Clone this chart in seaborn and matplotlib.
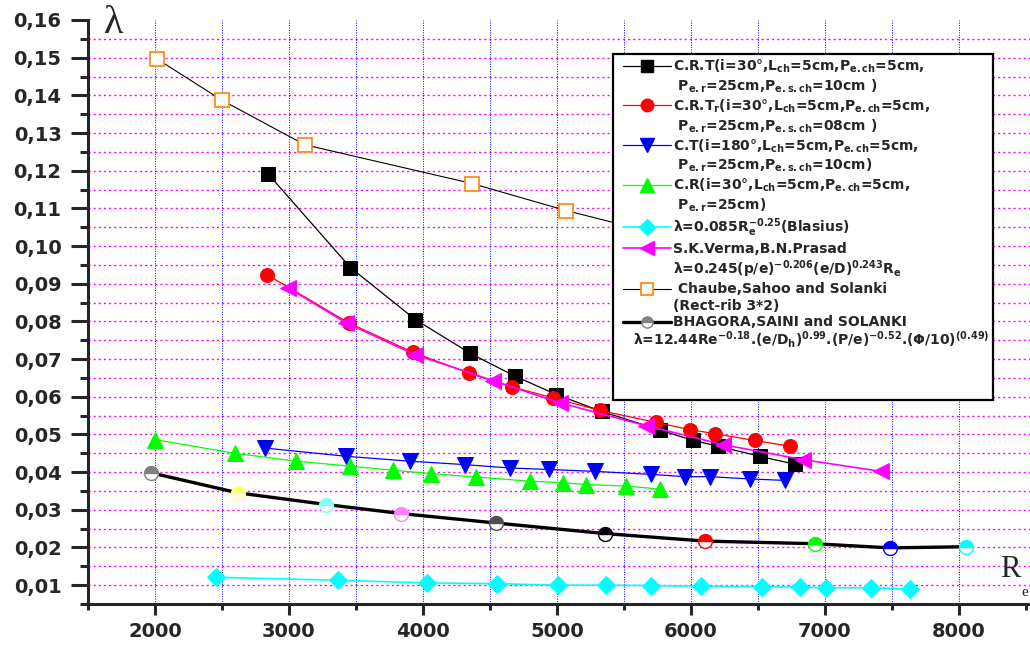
import numpy as np
import seaborn as sns
import matplotlib.pyplot as plt
from matplotlib.lines import Line2D
from matplotlib.patches import Rectangle
from matplotlib.ticker import MultipleLocator, FuncFormatter

# values (Re, friction factor)
crt_re = [2843, 3458, 3943, 4354, 4690, 4996, 5334, 5767, 6015, 6201, 6513, 6774]
crt_f = [0.1192, 0.0943, 0.0805, 0.0715, 0.0654, 0.0606, 0.0561, 0.0512, 0.0484, 0.0469, 0.0442, 0.0421]
crtr_re = [2836, 3446, 3925, 4341, 4667, 4970, 5319, 5737, 5990, 6177, 6475, 6736]
crtr_f = [0.0924, 0.0796, 0.0718, 0.0663, 0.0626, 0.0597, 0.0564, 0.0532, 0.0513, 0.0502, 0.0484, 0.0469]
ct_re = [2819, 3428, 3901, 4311, 4647, 4940, 5281, 5704, 5953, 6139, 6438, 6699]
ct_f = [0.0464, 0.0442, 0.0429, 0.0420, 0.0411, 0.0407, 0.0402, 0.0394, 0.0388, 0.0388, 0.0382, 0.0378]
cr_re = [2003, 2596, 3055, 3453, 3777, 4063, 4399, 4796, 5045, 5219, 5518, 5766]
cr_f = [0.0486, 0.0450, 0.0429, 0.0416, 0.0405, 0.0396, 0.0387, 0.0376, 0.0372, 0.0367, 0.0363, 0.0355]
bla_re = [2458, 3366, 4033, 4555, 5007, 5368, 5704, 6078, 6530, 6811, 7010, 7346, 7632]
bla_f = [0.0121, 0.0113, 0.0106, 0.0104, 0.0100, 0.0100, 0.0099, 0.0097, 0.0096, 0.0095, 0.0093, 0.0093, 0.0090]
skv_re = [2993, 3428, 3938, 4522, 5020, 5667, 6239, 6836, 7421]
skv_f = [0.0889, 0.0796, 0.0712, 0.0643, 0.0584, 0.0523, 0.0473, 0.0433, 0.0402]
csr_re = [2018, 2500, 3117, 4366, 5070, 6000]
csr_f = [0.1496, 0.1387, 0.1269, 0.1166, 0.1094, 0.1011]
bsr_re = [1973, 2619, 3279, 3839, 4543, 5356, 6102, 6923, 7483, 8055]
bsr_f = [0.0398, 0.0345, 0.0314, 0.0290, 0.0265, 0.0237, 0.0217, 0.0210, 0.0199, 0.0202]
bsr_colors = ['#808080', '#ffff80', '#80ffff', '#ff80ff', '#505050',
              '#000000', '#ff0000', '#00ff00', '#0000ff', '#00ffff']

sns.set_style('ticks')
plt.rcParams['font.family'] = ['DejaVu Sans']
plt.rcParams['font.weight'] = 'bold'
plt.rcParams['mathtext.fontset'] = 'dejavusans'
plt.rcParams['mathtext.default'] = 'bf'

W, H = 1030, 646
fig = plt.figure(figsize=(10.3, 6.46), dpi=100)
ax = fig.add_axes([88/W, 42/H, 942/W, 584/H])

# grid
for yv in np.arange(0.01, 0.1551, 0.005):
    ax.axhline(yv, color='#ff00ff', lw=1.0, ls=(0, (1.5, 2.2)), zorder=0)
for xv in range(2000, 8001, 500):
    ax.axvline(xv, color='#0000ff', lw=0.7, ls=(0, (1, 1.5)), zorder=0)

kw = dict(ax=ax, legend=False, sort=False)
sns.lineplot(x=crt_re, y=crt_f, color='black', lw=0.9, marker='s', ms=10, mec='black', mfc='black', **kw)
sns.lineplot(x=crtr_re, y=crtr_f, color='red', lw=0.9, marker='o', ms=10, mec='red', mfc='red', **kw)
sns.lineplot(x=ct_re, y=ct_f, color='blue', lw=0.9, marker='v', ms=11, mec='blue', mfc='blue', **kw)
sns.lineplot(x=cr_re, y=cr_f, color='#00ff00', lw=0.9, marker='^', ms=11, mec='#00ff00', mfc='#00ff00', **kw)
sns.lineplot(x=bla_re, y=bla_f, color='#00ffff', lw=1.2, marker='D', ms=9, mec='#00ffff', mfc='#00ffff', **kw)
sns.lineplot(x=skv_re, y=skv_f, color='#ff00ff', lw=1.2, marker='<', ms=11, mec='#ff00ff', mfc='#ff00ff', **kw)
sns.lineplot(x=csr_re, y=csr_f, color='black', lw=0.8, marker='s', ms=10, mec='#ff8c1a', mfc='white', mew=1.3, **kw)
sns.lineplot(x=bsr_re, y=bsr_f, color='black', lw=2.4, **kw)
for i, c in enumerate(bsr_colors):
    sns.lineplot(x=[bsr_re[i]], y=[bsr_f[i]], color=c, linestyle='none', marker='o', ms=10,
                 mec=c, mfc=c, mew=1.0, fillstyle='top', markerfacecoloralt='white', **kw)

ax.set_xlim(1500, 8530)
ax.set_ylim(0.005, 0.16)
ax.xaxis.set_major_locator(MultipleLocator(1000))
ax.xaxis.set_minor_locator(MultipleLocator(500))
ax.yaxis.set_major_locator(MultipleLocator(0.01))
ax.yaxis.set_minor_locator(MultipleLocator(0.005))
ax.xaxis.set_major_formatter(FuncFormatter(lambda v, p: f'{v:.0f}' if v >= 2000 else ''))
ax.yaxis.set_major_formatter(FuncFormatter(lambda v, p: f'{v:.2f}'.replace('.', ',') if v > 0.009 else ''))
ax.tick_params(axis='y', which='major', length=12, width=2.2, labelsize=14, pad=7)
ax.tick_params(axis='y', which='minor', length=5.5, width=2.2)
ax.tick_params(axis='x', which='major', length=8, width=2.2, labelsize=14, pad=5)
ax.tick_params(axis='x', which='minor', length=4.5, width=2.2)
for lab in ax.get_xticklabels() + ax.get_yticklabels():
    lab.set_fontweight('bold')
ax.spines['top'].set_visible(False)
ax.spines['right'].set_visible(False)
ax.spines['left'].set_linewidth(2.2)
ax.spines['bottom'].set_linewidth(2.2)
ax.set_xlabel('')
ax.set_ylabel('')

fig.text(104/W, 1 - 5/H, 'λ', family='Liberation Serif', weight='normal', size=29, va='top')
fig.text(1000/W, 1 - 577/H, 'R', family='Liberation Serif', weight='normal', size=22, va='baseline')
fig.text(1021/W, 1 - 596/H, 'e', family='Liberation Serif', weight='normal', size=11, va='baseline')

# legend box
fig.patches.append(Rectangle((612.7/W, 1 - 400/H), (993 - 612.7)/W, (400 - 54)/H,
                             transform=fig.transFigure, facecolor='white', edgecolor='black',
                             lw=1.6, zorder=2))

def blank():
    return Line2D([], [], linestyle='none')

handles = [
    Line2D([], [], color='black', lw=0.9, marker='s', ms=9, mfc='black', mec='black'), blank(),
    Line2D([], [], color='red', lw=0.9, marker='o', ms=9, mfc='red', mec='red'), blank(),
    Line2D([], [], color='blue', lw=0.9, marker='v', ms=10, mfc='blue', mec='blue'), blank(),
    Line2D([], [], color='#00ff00', lw=0.9, marker='^', ms=10, mfc='#00ff00', mec='#00ff00'), blank(),
    Line2D([], [], color='#00ffff', lw=1.2, marker='D', ms=8, mfc='#00ffff', mec='#00ffff'),
    Line2D([], [], color='#ff00ff', lw=1.2, marker='<', ms=10, mfc='#ff00ff', mec='#ff00ff'), blank(),
    Line2D([], [], color='black', lw=0.8, marker='s', ms=9, mfc='white', mec='#ff8c1a', mew=1.3), blank(),
    Line2D([], [], color='black', lw=2.4, marker='o', ms=8, mfc='#808080', mec='#808080',
           fillstyle='top', markerfacecoloralt='white'),
]
labels = [
    r'C.R.T(i=30°,L$_{ch}$=5cm,P$_{e.ch}$=5cm,',
    r' P$_{e.r}$=25cm,P$_{e.s.ch}$=10cm )',
    r'C.R.T$_r$(i=30°,L$_{ch}$=5cm,P$_{e.ch}$=5cm,',
    r' P$_{e.r}$=25cm,P$_{e.s.ch}$=08cm )',
    r'C.T(i=180°,L$_{ch}$=5cm,P$_{e.ch}$=5cm,',
    r' P$_{e.r}$=25cm,P$_{e.s.ch}$=10cm)',
    r'C.R(i=30°,L$_{ch}$=5cm,P$_{e.ch}$=5cm,',
    r' P$_{e.r}$=25cm)',
    r'λ=0.085R$_e^{-0.25}$(Blasius)',
    'S.K.Verma,B.N.Prasad',
    r'λ=0.245(p/e)$^{-0.206}$(e/D)$^{0.243}$R$_e$',
    ' Chaube,Sahoo and Solanki',
    '(Rect-rib 3*2)',
    'BHAGORA,SAINI and SOLANKI',
]
leg = fig.legend(handles, labels, loc='upper left', bbox_to_anchor=(617/W, 1 - 52/H),
                 frameon=False, prop={'weight': 'bold', 'size': 10}, handlelength=3.5,
                 handletextpad=0.1, labelspacing=0.18, borderpad=0.4, borderaxespad=0)
leg.set_zorder(5)
fig.text(633/W, 1 - 340/H,
         r'λ=12.44Re$^{-0.18}$.(e/D$_h$)$^{0.99}$.(P/e)$^{-0.52}$.(Φ/10)$^{(0.49)}$',
         size=10, weight='bold', va='center', ha='left', zorder=6)

plt.savefig('out.png', dpi=100)
